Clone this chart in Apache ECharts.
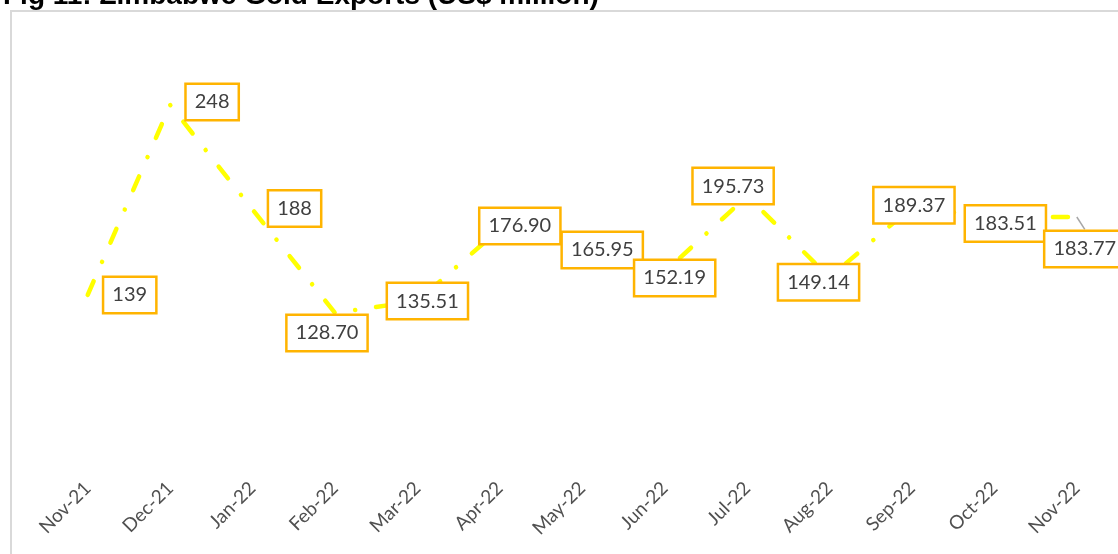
<!DOCTYPE html>
<html>
<head>
<meta charset="utf-8">
<script src="https://cdn.jsdelivr.net/npm/echarts@6/dist/echarts.min.js"></script>
<style>
html,body{margin:0;padding:0;background:#fff;}
#chart{width:1118px;height:554px;}
</style>
</head>
<body>
<div id="chart"></div>
<script>
// ---- data ----
const categories = ['Nov-21','Dec-21','Jan-22','Feb-22','Mar-22','Apr-22','May-22','Jun-22','Jul-22','Aug-22','Sep-22','Oct-22','Nov-22'];
const exportsValues = [139, 248, 188, 128.70, 135.51, 176.90, 165.95, 152.19, 195.73, 149.14, 189.37, 183.51, 183.77];
const valueLabels = ['139','248','188','128.70','135.51','176.90','165.95','152.19','195.73','149.14','189.37','183.51','183.77'];
const titleText = 'Fig 11: Zimbabwe Gold Exports (US$ million)';

// ---- label placement (layout only) ----
const labelShift = [[42,0],[42,-3],[42,-1],[-8,20],[10,0],[20,-3],[20,2],[10,6],[-14,-10],[-11,5],[2,-2],[11,6],[8,32]];
const guideIndex = 12;

const chart = echarts.init(document.getElementById('chart'), null, {renderer:'canvas'});

const seriesData = exportsValues.map((v, i) => {
  const item = { value: v };
  if (i === guideIndex) {
    item.labelLine = { show: true, lineStyle: { color: '#a6a6a6', width: 1.5 } };
  }
  return item;
});

chart.setOption({
  animation: false,
  backgroundColor: '#ffffff',
  graphic: [
    {
      type: 'rect', silent: true, z: 0,
      shape: { x: 11, y: 11, width: 1200, height: 700 },
      style: { fill: 'none', stroke: '#d9d9d9', lineWidth: 2 }
    },
    {
      type: 'text', silent: true, z: 10,
      x: 3, y: 10,
      style: {
        text: titleText,
        font: 'bold 28px "Liberation Sans", Arial, sans-serif',
        fill: '#000000',
        verticalAlign: 'bottom',
        textVerticalAlign: 'bottom'
      }
    }
  ],
  grid: { left: 46.5, right: -7.5, top: 49.2, bottom: 103.9, containLabel: false },
  xAxis: {
    type: 'category',
    data: categories,
    boundaryGap: true,
    axisLine: { show: false },
    axisTick: { show: false },
    splitLine: { show: false },
    axisLabel: {
      rotate: 45,
      margin: 35,
      color: '#505050',
      fontFamily: 'Lato',
      fontSize: 19,
      interval: 0
    }
  },
  yAxis: {
    type: 'value',
    min: 50,
    max: 280,
    show: false,
    splitLine: { show: false }
  },
  series: [{
    type: 'line',
    data: seriesData,
    symbol: 'circle',
    symbolSize: 0.1,
    showSymbol: true,
    itemStyle: { color: 'rgba(255,255,0,0)' },
    lineStyle: {
      color: '#FFFF00',
      width: 4.5,
      type: [15, 21, 0.1, 21],
      cap: 'round'
    },
    label: {
      show: true,
      position: 'inside',
      formatter: p => valueLabels[p.dataIndex],
      color: '#404040',
      fontFamily: 'Lato',
      fontSize: 20,
      lineHeight: 20,
      backgroundColor: '#ffffff',
      borderColor: '#FFB400',
      borderWidth: 2.5,
      padding: [7, 8, 7, 8]
    },
    labelLine: { show: false },
    labelLayout: function (params) {
      const s = labelShift[params.dataIndex];
      return { dx: s[0], dy: s[1] };
    }
  }]
});
</script>
</body>
</html>
